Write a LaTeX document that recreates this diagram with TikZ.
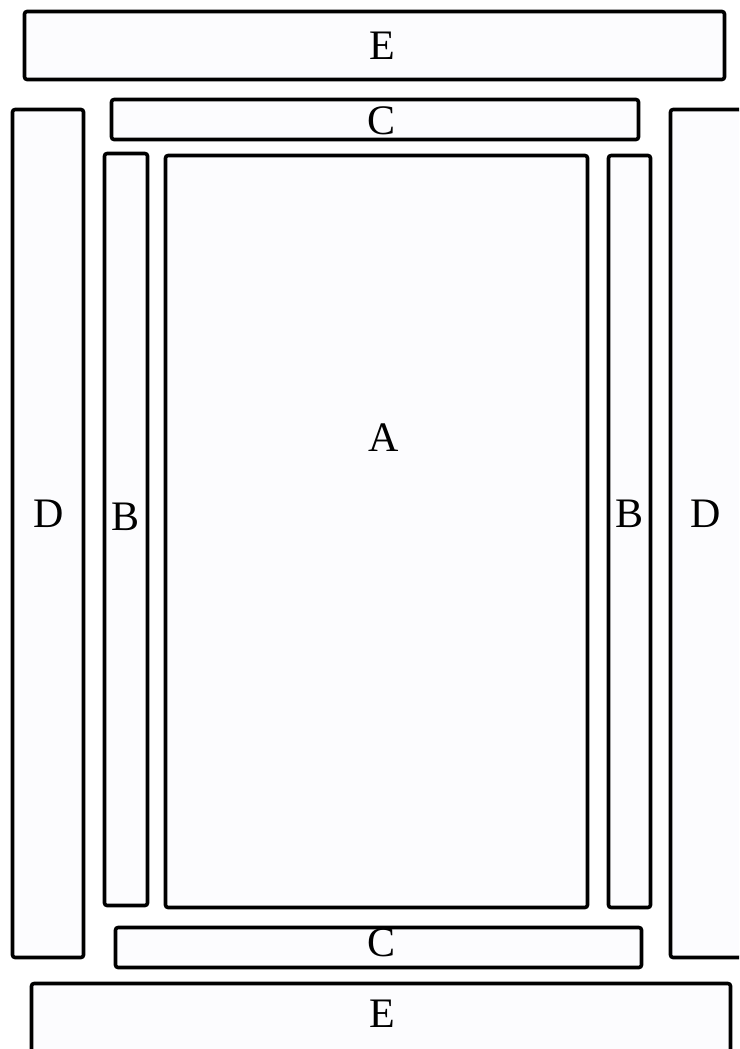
\documentclass[tikz,border=0pt]{standalone}
\usepackage{fontspec}
\setmainfont{Liberation Serif}
\usepackage{xcolor}
\definecolor{panelfill}{RGB}{252,252,254}

\begin{document}
\begin{tikzpicture}[x=1pt,y=-1pt,line join=round,
  panel/.style={draw,line width=3.6pt,rounded corners=2.5pt,fill=panelfill,inner sep=0pt},
  tag/.style={inner sep=0pt,font=\fontsize{42}{42}\selectfont}]
\useasboundingbox (0,0) rectangle (739,1049);
\fill[white] (0,0) rectangle (739,1049);
\clip (0,0) rectangle (739,1049);
% outer bars
\node[panel,minimum width=700,minimum height=68] (topE) at (374.5,45.5) {};
\node[panel,minimum width=699,minimum height=68] (botE) at (381,1017.5) {};
\node[panel,minimum width=71,minimum height=848] (leftD) at (48,533.5) {};
\node[panel,minimum width=71,minimum height=848] (rightD) at (706,533.5) {};
% inner frame
\node[panel,minimum width=527,minimum height=40] (topC) at (375,119.5) {};
\node[panel,minimum width=526,minimum height=40] (botC) at (378.5,947.5) {};
\node[panel,minimum width=43,minimum height=752] (leftB) at (126,529.5) {};
\node[panel,minimum width=42,minimum height=752] (rightB) at (629.5,531.5) {};
\node[panel,minimum width=422,minimum height=752] (midA) at (376.5,531.5) {};
% labels
\node[tag] (labTopE) at (382.5,45.5) {E};
\node[tag] (labBotE) at (382,1014) {E};
\node[tag] (labTopC) at (382,121) {C};
\node[tag] (labBotC) at (381.5,942.5) {C};
\node[tag] (labLeftD) at (48.5,513.5) {D};
\node[tag] (labRightD) at (705.5,513.5) {D};
\node[tag] (labLeftB) at (126,516.5) {B};
\node[tag] (labRightB) at (629,513.5) {B};
\node[tag] (labA) at (384,438) {A};
\end{tikzpicture}
\end{document}
